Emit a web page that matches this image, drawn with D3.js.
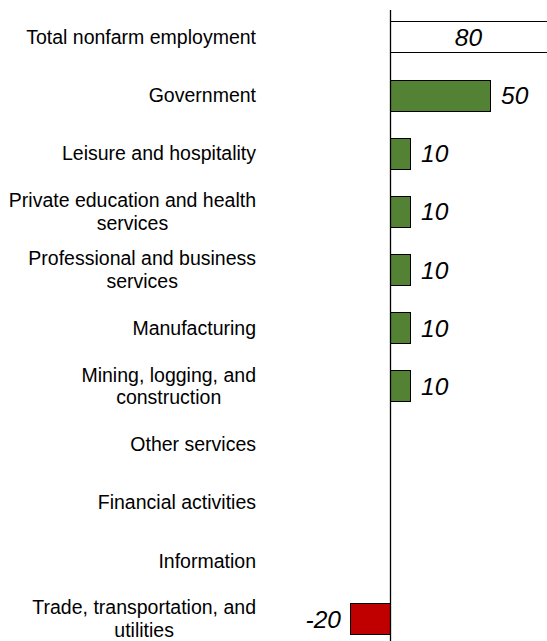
<!DOCTYPE html>
<html><head><meta charset="utf-8">
<script src="https://cdn.jsdelivr.net/npm/d3@7"></script>
<style>body{margin:0;background:#fff}svg{display:block}</style>
</head><body>
<script>
const categories = [
  ["Total nonfarm employment"],
  ["Government"],
  ["Leisure and hospitality"],
  ["Private education and health", "services"],
  ["Professional and business", "services"],
  ["Manufacturing"],
  ["Mining, logging, and", "construction"],
  ["Other services"],
  ["Financial activities"],
  ["Information"],
  ["Trade, transportation, and", "utilities"]
];
const values = [80, 50, 10, 10, 10, 10, 10, null, null, null, -20];
const labels = ["80", "50", "10", "10", "10", "10", "10", "", "", "", "-20"];

const W = 547, H = 641;
const svg = d3.select("body").append("svg").attr("width", W).attr("height", H);
const x = d3.scaleLinear().domain([0, 50]).range([390, 490]);
const y = d3.scaleBand().domain(d3.range(categories.length)).range([8, 648]).paddingInner(0.46).paddingOuter(0.23);

const rows = values.map((v, i) => ({v, i})).filter(d => d.v !== null);
const fill = d => d.i === 0 ? "#ffffff" : (d.v >= 0 ? "#548235" : "#C00000");

svg.selectAll("rect.bar").data(rows).join("rect")
  .attr("class", "bar")
  .attr("x", d => Math.min(x(0), x(d.v)) + 0.5)
  .attr("width", d => Math.abs(x(d.v) - x(0)))
  .attr("y", d => Math.round(y(d.i)) + 0.5)
  .attr("height", Math.round(y.bandwidth()))
  .attr("fill", fill)
  .attr("stroke", "#000").attr("stroke-width", 1);

// category labels: block right-aligned at 256, lines centred within block
const RIGHT = 256, LH = 22.5;
const catG = svg.append("g").attr("font-family", "Liberation Sans, Arial, sans-serif").attr("font-size", 19.5).attr("fill", "#000");
categories.forEach((lines, i) => {
  const cy = y(i) + y.bandwidth() / 2;
  const ts = lines.map((l, k) => catG.append("text")
    .attr("y", cy + (k - (lines.length - 1) / 2) * LH).attr("dy", "0.35em").text(l));
  const widths = ts.map(t => t.node().getComputedTextLength());
  const maxW = d3.max(widths);
  const cx = RIGHT - maxW / 2;
  ts.forEach(t => t.attr("x", cx).attr("text-anchor", "middle"));
});

// value labels
const valG = svg.append("g").attr("font-family", "Liberation Sans, Arial, sans-serif").attr("font-size", 24.5).attr("font-style", "italic").attr("fill", "#000");
rows.forEach(d => {
  const cy = y(d.i) + y.bandwidth() / 2;
  let tx, anchor;
  if (d.i === 0) { tx = (x(0) + W) / 2; anchor = "middle"; }
  else if (d.v >= 0) { tx = x(d.v) + 11; anchor = "start"; }
  else { tx = x(d.v) - 9; anchor = "end"; }
  valG.append("text").attr("x", tx).attr("y", cy).attr("dy", "0.36em").attr("text-anchor", anchor).text(labels[d.i]);
});

// zero line
svg.append("line").attr("x1", x(0) + 0.5).attr("x2", x(0) + 0.5).attr("y1", 10).attr("y2", H)
  .attr("stroke", "#000").attr("stroke-width", 1.3);
</script>
</body></html>
